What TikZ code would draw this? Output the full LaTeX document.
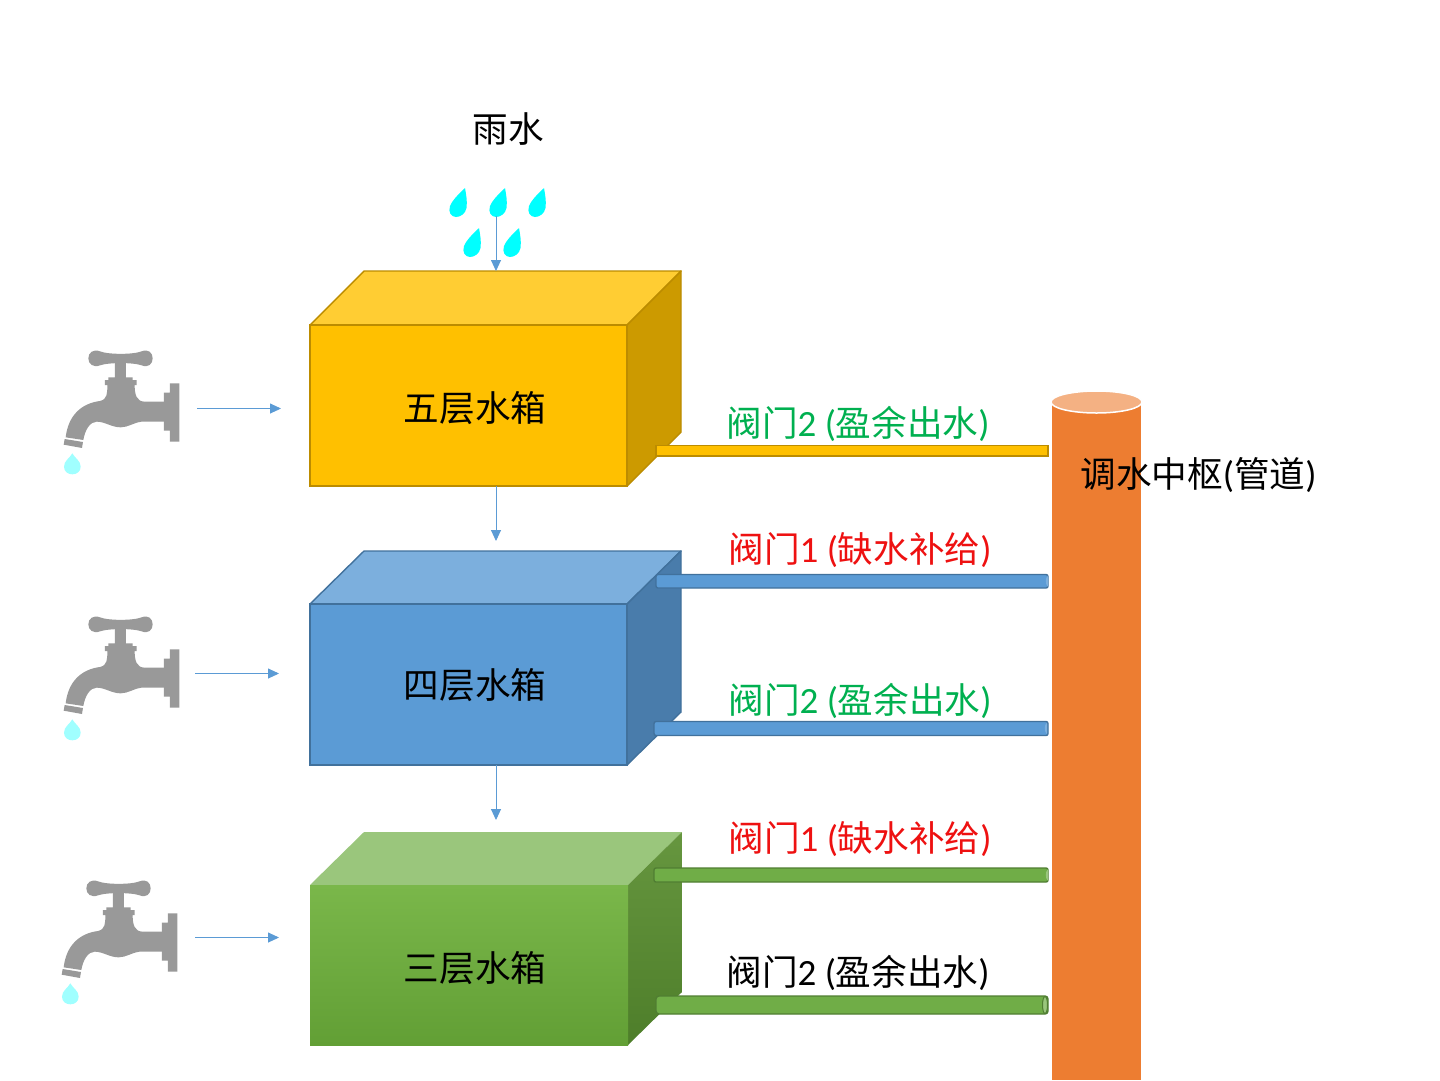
\documentclass[tikz,border=0pt]{standalone}
\usepackage{fontspec}
\setmainfont{Carlito}[Scale=1.04]
\newfontfamily\cjk{Noto Sans CJK SC}
\usetikzlibrary{arrows.meta}
\definecolor{arrowblue}{HTML}{5B9BD5}
\definecolor{tapgrey}{HTML}{999999}
\definecolor{lblgreen}{HTML}{00B050}
\definecolor{lblred}{HTML}{EE1111}
\definecolor{yfront}{HTML}{FFC000}
\definecolor{ytop}{HTML}{FFCD33}
\definecolor{yside}{HTML}{CC9A00}
\definecolor{yline}{HTML}{BC8C00}
\definecolor{bfront}{HTML}{5B9BD5}
\definecolor{btop}{HTML}{7CAFDD}
\definecolor{bside}{HTML}{497CAB}
\definecolor{bline}{HTML}{41719C}
\definecolor{gpipe}{HTML}{70AD47}
\definecolor{gline}{HTML}{507E32}
\definecolor{gtop}{HTML}{9AC67C}
\definecolor{gfronta}{HTML}{7AB74A}
\definecolor{gfrontb}{HTML}{629F35}
\definecolor{gsidea}{HTML}{66963F}
\definecolor{gsideb}{HTML}{4E7E2A}
\definecolor{hub}{HTML}{ED7D31}
\definecolor{hubtop}{HTML}{F4B183}
\definecolor{raincyan}{HTML}{00FFFF}
\definecolor{tapdrop}{HTML}{A0FFFF}
\tikzset{
  x=1pt,y=-1pt,
  flow/.style={draw=arrowblue,line width=0.9pt,-{Triangle[length=11pt,width=10pt]}},
  lbl/.style={inner sep=0pt,font=\fontsize{35.6}{36}\selectfont,anchor=center},
  ypipe/.style={fill=yfront,draw=yline,line width=1.4pt},
  bpipe/.style={fill=bfront,draw=bline,line width=1.4pt},
  gpipestyle/.style={fill=gpipe,draw=gline,line width=1.4pt},
  faucet/.pic={
    \begin{scope}[x=0.3333pt,y=-0.3333pt]
      \fill[tapgrey] (115,55) .. controls (115,38) and (130,26) .. (150,34)
        .. controls (175,44) and (250,44) .. (275,34)
        .. controls (295,26) and (308,38) .. (308,55)
        .. controls (308,72) and (295,84) .. (275,76)
        .. controls (250,67) and (175,67) .. (150,76)
        .. controls (130,84) and (115,72) .. (115,55) -- cycle;
      \fill[tapgrey] (195,65) -- (228,65) -- (228,112) -- (248,112) -- (248,120) -- (260,120) -- (260,135) -- (254,135)
        .. controls (254,165) and (260,185) .. (285,185)
        -- (342,185) -- (342,245) -- (275,245)
        .. controls (250,248) and (235,262) .. (212,262)
        .. controls (185,262) and (165,245) .. (140,245)
        .. controls (120,245) and (105,270) .. (100,300)
        -- (47,292)
        .. controls (55,225) and (95,190) .. (150,183)
        .. controls (172,178) and (172,160) .. (172,135)
        -- (165,135) -- (165,120) -- (175,120) -- (175,112) -- (195,112) -- cycle;
      \fill[tapgrey] (44,297) -- (99,306) -- (96,324) -- (41,314) -- cycle;
      \fill[tapgrey] (342,158) -- (360,158) -- (360,130) -- (388,130) -- (388,305) -- (360,305) -- (360,272) -- (342,272) -- cycle;
      \fill[tapdrop] (67,340) .. controls (75,355) and (92,362) .. (92,380)
        .. controls (92,395) and (80,403) .. (67,403)
        .. controls (54,403) and (42,395) .. (42,380)
        .. controls (42,362) and (59,355) .. (67,340) -- cycle;
    \end{scope}
  },
  raindrop/.pic={
    \fill[raincyan] (0,0) .. controls (1,6) and (2.5,13) .. (1.5,20)
      .. controls (0.5,26) and (-5,29) .. (-9,29)
      .. controls (-14,29) and (-17,24) .. (-15,18)
      .. controls (-12,11) and (-5,5) .. (0,0) -- cycle;
  },
}
\begin{document}
\begin{tikzpicture}
\useasboundingbox (0,0) rectangle (1440,1080);
\fill[white] (0,0) rectangle (1440,1080);

% hub cylinder
\fill[hub] (1052,402) rectangle (1141,1080);
\draw[fill=hubtop,draw=white,line width=1.5pt] (1096.5,402) ellipse [x radius=45.5,y radius=11];
\node[lbl] (hublabel) at (1198.5,475.5) {\cjk 调水中枢\normalfont(\cjk 管道\normalfont)};

% rain
\pic at (465,188) {raindrop};
\pic at (505,188) {raindrop};
\pic at (544,188) {raindrop};
\pic at (479,228) {raindrop};
\pic at (519,228) {raindrop};
\node[lbl] (rain) at (508,129.5) {\cjk 雨水};
\coordinate (rainout) at (496,216);

% five
\draw[fill=ytop,draw=yline,line width=1.4pt,line join=round] (310,325) -- (364,271) -- (681,271) -- (627,325) -- cycle;
\draw[fill=yside,draw=yline,line width=1.4pt,line join=round] (627,325) -- (681,271) -- (681,432) -- (627,486) -- cycle;
\draw[fill=yfront,draw=yline,line width=1.4pt] (310,325) rectangle (627,486);
\node[lbl] (five) at (475,408.5) {\cjk 五层水箱};
\coordinate (fivetop) at (496,271);
\coordinate (fivebot) at (496,486);

% four
\draw[fill=btop,draw=bline,line width=1.4pt,line join=round] (310,604) -- (364,551) -- (681,551) -- (627,604) -- cycle;
\draw[fill=bside,draw=bline,line width=1.4pt,line join=round] (627,604) -- (681,551) -- (681,712) -- (627,765) -- cycle;
\draw[fill=bfront,draw=bline,line width=1.4pt] (310,604) rectangle (627,765);
\node[lbl] (four) at (475,685.5) {\cjk 四层水箱};
\coordinate (fourtop) at (496,541);
\coordinate (fourbot) at (496,765);

% three
\fill[gtop] (310,885) -- (364,832) -- (682,832) -- (628,885) -- cycle;
\shade[top color=gsidea,bottom color=gsideb] (628,885) -- (682,832) -- (682,992) -- (628,1045) -- cycle;
\shade[top color=gfronta,bottom color=gfrontb] (310,885) rectangle (628,1045);
\node[lbl] (three) at (475,968.5) {\cjk 三层水箱};
\coordinate (threetop) at (496,820);

% pipes
\draw[ypipe] (656,445.5) rectangle (1048,456);
\draw[bpipe,rounded corners=2pt] (656,574.5) rectangle (1048,588);
\fill[btop] (1048,575.5) .. controls (1045,578) and (1045,584) .. (1048,587) -- cycle;
\draw[bpipe,rounded corners=2pt] (654,721.5) rectangle (1048,735.5);
\fill[btop] (1047,722.5) .. controls (1044,725) and (1044,731) .. (1047,734.5) -- cycle;
\draw[gpipestyle,rounded corners=2pt] (654,868) rectangle (1048,882);
\fill[gtop] (1048,869) .. controls (1045,872) and (1045,878) .. (1048,881) -- cycle;
\draw[gpipestyle,rounded corners=3pt] (656,996) rectangle (1048,1014);
\draw[fill=gtop,draw=gline,line width=1pt] (1045,1005) ellipse [x radius=2.5,y radius=8.5];

% valve labels
\node[lbl,text=lblgreen] (v52) at (858,423.5) {\cjk 阀门\normalfont2 (\cjk 盈余出水\normalfont)};
\node[lbl,text=lblred] (v41) at (860,550.5) {\cjk 阀门\normalfont1 (\cjk 缺水补给\normalfont)};
\node[lbl,text=lblgreen] (v42) at (860,700.5) {\cjk 阀门\normalfont2 (\cjk 盈余出水\normalfont)};
\node[lbl,text=lblred] (v31) at (860,839.5) {\cjk 阀门\normalfont1 (\cjk 缺水补给\normalfont)};
\node[lbl,text=black] (v32) at (858,972.5) {\cjk 阀门\normalfont2 (\cjk 盈余出水\normalfont)};

% faucets
\pic at (50,340) {faucet};
\pic at (50,606) {faucet};
\pic at (48,870) {faucet};
\coordinate (tapa) at (197,408.5); \coordinate (ina) at (281,408.5);
\coordinate (tapb) at (195,673.5); \coordinate (inb) at (279,673.5);
\coordinate (tapc) at (195,937.5); \coordinate (inc) at (279,937.5);

% arrows
\draw[flow] (tapa) -- (ina);
\draw[flow] (tapb) -- (inb);
\draw[flow] (tapc) -- (inc);
\draw[flow] (rainout) -- (fivetop);
\draw[flow] (fivebot) -- (fourtop);
\draw[flow] (fourbot) -- (threetop);
\end{tikzpicture}
\end{document}
